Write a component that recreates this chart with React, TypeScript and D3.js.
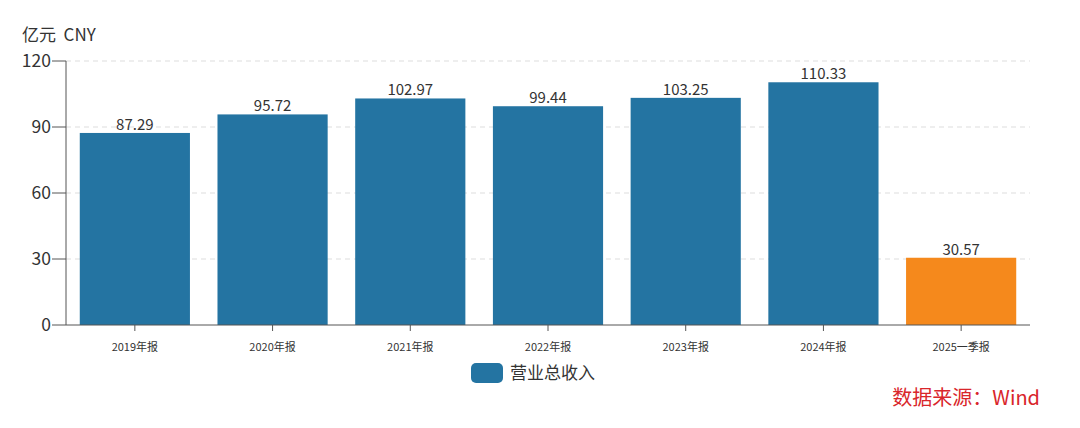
import React from "react";
import * as d3 from "d3";

const categories = ["2019年报", "2020年报", "2021年报", "2022年报", "2023年报", "2024年报", "2025一季报"];
const values = [87.29, 95.72, 102.97, 99.44, 103.25, 110.33, 30.57];
const yTicks = [0, 30, 60, 90, 120];
const seriesName = "营业总收入";
const unitLabel = "亿元  CNY";
const sourceLabel = "数据来源：Wind";

const W = 1080, H = 428;
const m = { left: 66, right: 50, top: 61, bottom: 103 };
const font = "'Noto Sans CJK SC', 'Open Sans', sans-serif";

export default function App() {
  const x = d3.scaleBand<string>().domain(categories).range([m.left, W - m.right]).paddingInner(0.2).paddingOuter(0.1);
  const y = d3.scaleLinear().domain([0, 120]).range([H - m.bottom, m.top]);
  const y0 = y(0);
  return (
    <svg width={W} height={H} style={{ position: "absolute", left: 0, top: 0, background: "#fff" }} fontFamily={font}>
      <text x={22} y={41} fontSize={17} fill="#333" style={{ whiteSpace: "pre" }}>{unitLabel}</text>
      {yTicks.map((t) => (
        <g key={t}>
          {t > 0 && <line x1={m.left} x2={W - m.right} y1={y(t)} y2={y(t)} stroke="#ddd" strokeDasharray="5,4" />}
          <line x1={m.left - 14} x2={m.left} y1={y(t)} y2={y(t)} stroke="#555" />
          <text x={m.left - 15} y={y(t)} dy="0.35em" textAnchor="end" fontSize={17.5} fill="#333">{t}</text>
        </g>
      ))}
      {categories.map((c, i) => (
        <g key={c}>
          <rect x={x(c)} y={y(values[i])} width={x.bandwidth()} height={y0 - y(values[i])} fill={i === categories.length - 1 ? "#f5891c" : "#2474a2"} />
          <text x={(x(c) as number) + x.bandwidth() / 2} y={y(values[i]) - 3} textAnchor="middle" fontSize={15} fill="#333">{values[i].toFixed(2)}</text>
          <line x1={(x(c) as number) + x.bandwidth() / 2} x2={(x(c) as number) + x.bandwidth() / 2} y1={y0} y2={y0 + 6} stroke="#555" />
          <text x={(x(c) as number) + x.bandwidth() / 2} y={y0 + 26} textAnchor="middle" fontSize={11} fill="#333">{c}</text>
        </g>
      ))}
      <line x1={m.left} x2={m.left} y1={m.top} y2={y0} stroke="#555" />
      <line x1={m.left} x2={W - m.right} y1={y0} y2={y0} stroke="#555" />
      <rect x={471} y={363} width={32} height={20} rx={5} fill="#2474a2" />
      <text x={510} y={379} fontSize={17} fill="#333">{seriesName}</text>
      <text x={1040} y={405} textAnchor="end" fontSize={20} fill="#d9262b">{sourceLabel}</text>
    </svg>
  );
}
